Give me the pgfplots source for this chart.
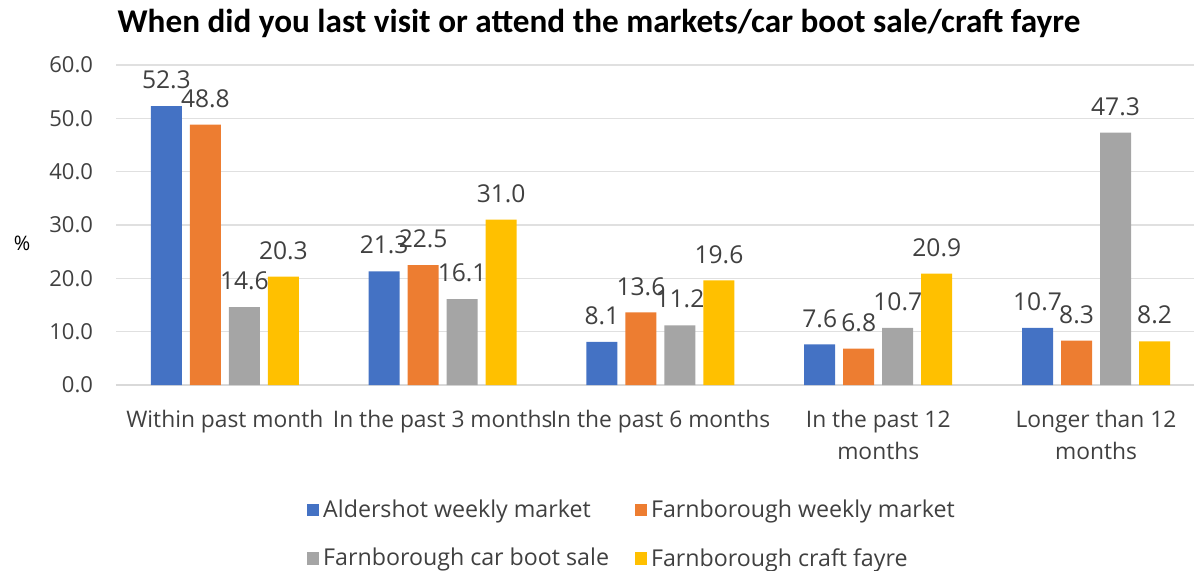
\documentclass[border=0pt]{standalone}
\usepackage{pgfplots}
\pgfplotsset{compat=1.18}
\usepackage{fontspec}
\setmainfont{Open Sans}
\newfontfamily\titlefont{Carlito}
\definecolor{cA}{HTML}{4472C4}
\definecolor{cB}{HTML}{ED7D31}
\definecolor{cC}{HTML}{A5A5A5}
\definecolor{cD}{HTML}{FFC000}
\definecolor{txt}{HTML}{404040}
\begin{document}
\begin{tikzpicture}
\useasboundingbox (-58pt,-92.5pt) rectangle (539pt,192.5pt);
\begin{axis}[
  scale only axis,
  width=539pt, height=160pt,
  at={(0,0)}, anchor=south west,
  ymin=0, ymax=60,
  ytick={0,10,...,60},
  yticklabel style={font=\fontsize{11}{13}\selectfont, text=txt, xshift=-8pt,
    /pgf/number format/fixed, /pgf/number format/fixed zerofill, /pgf/number format/precision=1, /pgf/number format/assume math mode=true},
  xmin=-0.5, xmax=4.45,
  xtick={0,1,2,3,4},
  xticklabels={Within past month, In the past 3 months, In the past 6 months, {In the past 12\\months}, {Longer than 12\\months}},
  xticklabel style={font=\fontsize{11.4}{16}\selectfont, text=txt, align=center, yshift=-9pt},
  axis x line*=bottom, axis y line*=left,
  x axis line style={draw=black!15, line width=0.8pt, -},
  y axis line style={draw=none},
  ymajorgrids, grid style={draw=black!12, line width=0.6pt},
  major tick length=0pt,
  ylabel={\%}, ylabel style={rotate=-90, font=\fontsize{11}{13}\selectfont, text=txt},
  every axis y label/.style={at={(rel axis cs:0,0.5)}, anchor=center, xshift=-47pt, yshift=-9pt},
  ybar, bar width=15.5pt,
  nodes near coords,
  nodes near coords style={font=\fontsize{12.3}{14}\selectfont, text=txt, yshift=5pt, /pgf/number format/fixed, /pgf/number format/fixed zerofill, /pgf/number format/precision=1, /pgf/number format/assume math mode=true},
  title={\titlefont\bfseries When did you last visit or attend the markets/car boot sale/craft fayre},
  title style={font=\fontsize{16.6}{19}\selectfont, at={(0.5,1)}, anchor=south, yshift=4pt, xshift=-28pt},
  legend columns=2,
  legend cell align=left,
  legend style={draw=none, font=\fontsize{11.6}{13}\selectfont, text=txt, at={(0.4796,-0.332)}, anchor=north,
    /tikz/every even column/.append style={column sep=11pt}, row sep=10pt,
    /tikz/every odd column/.append style={inner sep=1pt}},
  legend image code/.code={\fill[#1] (0pt,-3pt) rectangle (6pt,3.2pt);},
  clip=false,
]
\addplot[fill=cA, draw=none, bar shift=-29.25pt] coordinates {(0,52.3) (1,21.3) (2,8.1) (3,7.6) (4,10.7)};
\addplot[fill=cB, draw=none, bar shift=-9.75pt] coordinates {(0,48.8) (1,22.5) (2,13.6) (3,6.8) (4,8.3)};
\addplot[fill=cC, draw=none, bar shift=9.75pt] coordinates {(0,14.6) (1,16.1) (2,11.2) (3,10.7) (4,47.3)};
\addplot[fill=cD, draw=none, bar shift=29.25pt] coordinates {(0,20.3) (1,31.0) (2,19.6) (3,20.9) (4,8.2)};
\legend{Aldershot weekly market, Farnborough weekly market, Farnborough car boot sale, Farnborough craft fayre}
\end{axis}
\end{tikzpicture}
\end{document}
